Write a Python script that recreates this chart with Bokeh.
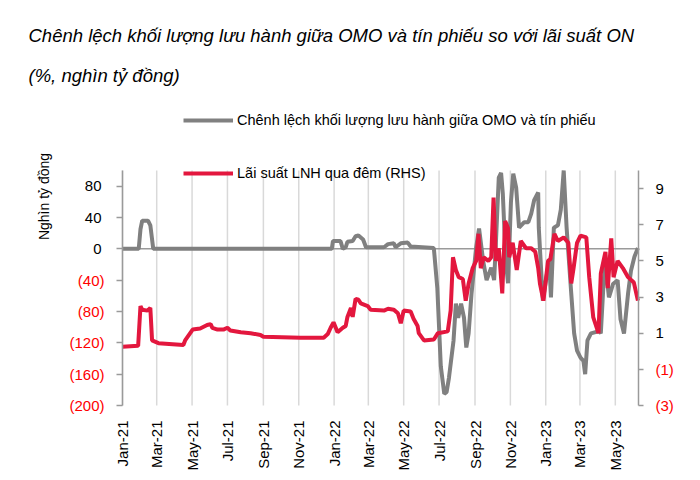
from math import pi
import pandas as pd
from bokeh.plotting import figure
from bokeh.models import (Range1d, LinearAxis, DatetimeAxis, FixedTicker, DatetimeTickFormatter,
                          Label, Legend, LegendItem)
from bokeh.embed import file_html
from bokeh.resources import INLINE

# ---------------- data ----------------
gap_dates = ["2021-01-01", "2021-01-29", "2021-02-01", "2021-02-04", "2021-02-14", "2021-02-18",
             "2021-02-23", "2021-12-28", "2021-12-30", "2022-01-12", "2022-01-16", "2022-01-21",
             "2022-01-24", "2022-02-02", "2022-02-07", "2022-02-12", "2022-02-20", "2022-02-25",
             "2022-03-28", "2022-04-04", "2022-04-14", "2022-04-17", "2022-04-26", "2022-05-08",
             "2022-05-13", "2022-06-22", "2022-06-28", "2022-07-01", "2022-07-04", "2022-07-10",
             "2022-07-14", "2022-07-18", "2022-07-26", "2022-07-30", "2022-08-03", "2022-08-08",
             "2022-08-13", "2022-08-17", "2022-08-21", "2022-08-26", "2022-09-03", "2022-09-08",
             "2022-09-15", "2022-09-21", "2022-09-29", "2022-10-04", "2022-10-07", "2022-10-12",
             "2022-10-16", "2022-10-19", "2022-10-24", "2022-10-28", "2022-11-02", "2022-11-06",
             "2022-11-11", "2022-11-16", "2022-11-25", "2022-12-02", "2022-12-07", "2022-12-12",
             "2022-12-19", "2022-12-20", "2022-12-27", "2023-01-02", "2023-01-07", "2023-01-10",
             "2023-01-15", "2023-01-22", "2023-01-27", "2023-02-01", "2023-02-06", "2023-02-14",
             "2023-02-19", "2023-02-24", "2023-03-02", "2023-03-07", "2023-03-10", "2023-03-14",
             "2023-03-20", "2023-04-03", "2023-04-06", "2023-04-11", "2023-04-14", "2023-04-20",
             "2023-04-27", "2023-05-05", "2023-05-10", "2023-05-16", "2023-05-23", "2023-05-28",
             "2023-06-03", "2023-06-09"]
gap_values = [0, 0, 25, 36, 36, 30,
              0, 0, 10, 10, 0, 2,
              9, 10, 16, 17, 12, 2,
              2, 6, 7, 2, 7, 8,
              3, 1, -50, -100, -150, -185,
              -183, -165, -117, -70, -88, -70,
              -88, -126, -108, -57, 2, 26,
              -15, -40, -24, -40, 7, 91,
              97, 70, -15, -44, 60, 96,
              78, 27, 34, 34, 45, 62,
              72, 27, -66, -37, -15, -62,
              27, 30, 50, 100, 27, -57,
              -108, -130, -139, -143, -160, -117,
              -108, -105, -108, -40, -20, -62,
              -45, -40, -90, -108, -57, -28,
              -10, 1]

rate_dates = ["2021-01-01", "2021-01-28", "2021-02-01", "2021-02-04", "2021-02-13", "2021-02-18",
              "2021-02-21", "2021-03-04", "2021-04-16", "2021-04-19", "2021-05-02", "2021-05-15",
              "2021-05-27", "2021-06-02", "2021-06-05", "2021-06-14", "2021-06-24", "2021-07-01",
              "2021-07-06", "2021-07-24", "2021-08-10", "2021-08-27", "2021-09-01", "2021-11-04",
              "2021-12-14", "2021-12-21", "2021-12-26", "2021-12-31", "2022-01-07", "2022-01-16",
              "2022-01-21", "2022-01-24", "2022-01-30", "2022-02-02", "2022-02-07", "2022-02-12",
              "2022-02-16", "2022-02-28", "2022-03-05", "2022-03-28", "2022-04-04", "2022-04-14",
              "2022-04-21", "2022-04-26", "2022-05-01", "2022-05-13", "2022-05-18", "2022-05-25",
              "2022-05-27", "2022-06-05", "2022-06-22", "2022-06-29", "2022-07-16", "2022-07-21",
              "2022-07-25", "2022-07-30", "2022-08-04", "2022-08-11", "2022-08-16", "2022-08-21",
              "2022-08-28", "2022-09-03", "2022-09-07", "2022-09-11", "2022-09-16", "2022-09-24",
              "2022-09-29", "2022-10-03", "2022-10-07", "2022-10-12", "2022-10-18", "2022-10-23",
              "2022-10-28", "2022-10-30", "2022-11-05", "2022-11-12", "2022-11-19", "2022-11-28",
              "2022-12-07", "2022-12-14", "2022-12-19", "2022-12-22", "2022-12-28", "2023-01-05",
              "2023-01-09", "2023-01-16", "2023-01-22", "2023-02-01", "2023-02-09", "2023-02-14",
              "2023-02-18", "2023-02-24", "2023-03-02", "2023-03-12", "2023-03-17", "2023-03-24",
              "2023-04-02", "2023-04-06", "2023-04-14", "2023-04-18", "2023-04-24", "2023-04-28",
              "2023-05-05", "2023-05-14", "2023-05-23", "2023-06-02", "2023-06-09"]
rate_values = [0.25, 0.3, 2.5, 2.3, 2.25, 2.4,
               0.6, 0.45, 0.35, 0.6, 1.2, 1.26,
               1.45, 1.5, 1.3, 1.2, 1.2, 1.3,
               1.15, 1.05, 1.0, 0.9, 0.8, 0.75,
               0.75, 0.95, 1.3, 1.6, 1.05, 1.3,
               1.4, 1.9, 2.4, 1.9, 2.9, 2.85,
               2.65, 2.5, 2.3, 2.25, 2.35, 2.3,
               2.1, 1.55, 2.25, 2.2, 1.8, 1.4,
               1.0, 0.6, 0.65, 1.0, 1.1, 2.25,
               5.2, 4.5, 4.1, 4.0, 2.8, 3.75,
               4.6, 5.0, 6.5, 4.6, 5.2, 5.0,
               5.2, 8.5, 5.0, 5.7, 3.2, 7.2,
               6.8, 5.2, 6.0, 4.5, 6.1, 5.7,
               5.7, 5.5, 4.6, 3.75, 2.8, 5.0,
               5.1, 6.5, 6.1, 6.3, 6.0, 3.75,
               4.6, 6.0, 6.4, 6.3, 4.1, 1.87,
               1.0, 4.3, 5.5, 3.5, 6.25, 4.1,
               5.0, 4.6, 4.1, 3.8, 2.8]

left_ticks = [-200, -160, -120, -80, -40, 0, 40, 80]
right_ticks = [-3, -1, 1, 3, 5, 7, 9]
month_ticks = ["2021-01-01", "2021-03-01", "2021-05-01", "2021-07-01", "2021-09-01",
               "2021-11-01", "2022-01-01", "2022-03-01", "2022-05-01", "2022-07-01",
               "2022-09-01", "2022-11-01", "2023-01-01", "2023-03-01", "2023-05-01"]

title_1 = "Chênh lệch khối lượng lưu hành giữa OMO và tín phiếu so với lãi suất ON"
title_2 = "(%, nghìn tỷ đồng)"
gap_name = "Chênh lệch khối lượng lưu hành giữa OMO và tín phiếu"
rate_name = "Lãi suất LNH qua đêm (RHS)"
left_label = "Nghìn tỷ đồng"

# ---------------- style / layout ----------------
GRAY = "#808080"
RED = "#E3173E"
TICK_RED = "#FF0000"
AXIS = "#9a9a9a"
GRID = "#d9d9d9"
FONT = "Liberation Sans, Arial, sans-serif"
LW = 4

W, H = 700, 480
PL, PR, PT, PB = 122, 638, 170, 405      # plotting box inside the full-canvas frame
X0, X1 = "2021-01-01", "2023-06-10"       # x extent of the plotting box
L0, L1 = -200, 100                        # left axis extent
R0, R1 = -3, 10                           # right axis extent


def paren(v):
    return f"({abs(v)})" if v < 0 else f"{v}"


def ms(d):
    return pd.Timestamp(d).value // 10**6


# the frame fills the whole canvas; ranges are stretched so the box PL..PR / PT..PB holds the data
xs = (ms(X1) - ms(X0)) / (PR - PL)
ls = (L1 - L0) / (PB - PT)
rs = (R1 - R0) / (PB - PT)

p = figure(width=W, height=H, x_axis_type="datetime",
           x_axis_location=None, y_axis_location=None,
           x_range=Range1d(ms(X0) - PL * xs, ms(X1) + (W - PR) * xs),
           y_range=Range1d(L0 - (H - PB) * ls, L1 + PT * ls),
           output_backend="svg", toolbar_location=None,
           min_border=0)
p.extra_y_ranges = {"right": Range1d(R0 - (H - PB) * rs, R1 + PT * rs)}
p.outline_line_color = None
p.background_fill_color = "white"
p.border_fill_color = "white"
p.xgrid.visible = False
p.ygrid.visible = False


def style_axis(ax, color, line, tick_out, standoff):
    ax.axis_line_color = AXIS if line else None
    ax.axis_line_width = 1.5
    ax.major_tick_line_color = AXIS if line else None
    ax.major_tick_line_width = 1.5
    ax.major_tick_out = tick_out
    ax.major_tick_in = 0
    ax.minor_tick_line_color = None
    ax.major_label_standoff = standoff
    ax.major_label_text_font = FONT
    ax.major_label_text_font_size = "15px"
    ax.major_label_text_color = color


# vertical grid lines (one per labelled month) and the zero line of the left axis
gdates = pd.to_datetime(month_ticks)
p.segment(x0=gdates, y0=[L0] * len(gdates), x1=gdates, y1=[L1] * len(gdates),
          line_color=GRID, line_width=1.5, level="underlay")
p.segment(x0=[pd.Timestamp(X0)], y0=[0], x1=[pd.Timestamp(X1)], y1=[0],
          line_color=AXIS, line_width=1.5, level="underlay")

# series
gx = pd.to_datetime(gap_dates)
rx = pd.to_datetime(rate_dates)
g = p.line(gx, gap_values, line_color=GRAY, line_width=LW)
r = p.line(rx, rate_values, y_range_name="right", line_color=RED, line_width=LW)

# bottom date axis
xt = FixedTicker(ticks=[ms(d) for d in month_ticks])
fmt = "%b-%y"
xa = DatetimeAxis(fixed_location=L0, ticker=xt,
                  formatter=DatetimeTickFormatter(years=fmt, months=fmt, days=fmt, hours=fmt,
                                                  minutes=fmt, seconds=fmt, milliseconds=fmt,
                                                  microseconds=fmt, hourmin=fmt, minsec=fmt))
style_axis(xa, "black", False, 0, 15)
xa.major_label_orientation = pi / 2
p.add_layout(xa, "below")

# left axis (black labels for non-negative ticks) + overlay with red bracketed negatives
ya = LinearAxis(fixed_location=ms(X0), bounds=(L0, L1), ticker=FixedTicker(ticks=left_ticks),
                major_label_overrides={v: (paren(v) if v >= 0 else "") for v in left_ticks})
style_axis(ya, "black", True, 6, 15)
p.add_layout(ya, "left")
lneg = [v for v in left_ticks if v < 0]
ya2 = LinearAxis(fixed_location=ms(X0), ticker=FixedTicker(ticks=lneg),
                 major_label_overrides={v: paren(v) for v in lneg})
style_axis(ya2, TICK_RED, False, 0, 18)
p.add_layout(ya2, "left")

# right axis + overlay with red bracketed negatives
ra = LinearAxis(y_range_name="right", fixed_location=ms(X1), bounds=(R0, R1),
                ticker=FixedTicker(ticks=right_ticks),
                major_label_overrides={v: (paren(v) if v > 0 else "") for v in right_ticks})
style_axis(ra, "black", True, 5, 12)
p.add_layout(ra, "right")
rneg = [v for v in right_ticks if v < 0]
ra2 = LinearAxis(y_range_name="right", fixed_location=ms(X1), ticker=FixedTicker(ticks=rneg),
                 major_label_overrides={v: paren(v) for v in rneg})
style_axis(ra2, TICK_RED, False, 0, 17)
p.add_layout(ra2, "right")

# legend
leg = Legend(items=[LegendItem(label=gap_name, renderers=[g]),
                    LegendItem(label=rate_name, renderers=[r])],
             location=(183, H - 185), orientation="vertical",
             glyph_width=50, glyph_height=24, label_height=24, label_standoff=4,
             spacing=29, padding=0, margin=0, border_line_color=None,
             background_fill_alpha=0, label_text_font=FONT, label_text_font_size="14.5px",
             label_text_color="black")
p.add_layout(leg)

# titles and y caption (screen units: from the canvas' bottom-left corner)
for txt, base in ((title_1, 35), (title_2, 75)):
    p.add_layout(Label(x=28, y=H - base, x_units="screen", y_units="screen", text=txt,
                       text_font=FONT, text_font_size="18.5px", text_font_style="italic",
                       text_color="black", text_baseline="alphabetic"))
p.add_layout(Label(x=43, y=H - 196, x_units="screen", y_units="screen", text=left_label,
                   angle=pi / 2, text_align="center", text_baseline="middle",
                   text_font=FONT, text_font_size="14px", text_color="black"))

open("out.html", "w").write(file_html(p, INLINE))
